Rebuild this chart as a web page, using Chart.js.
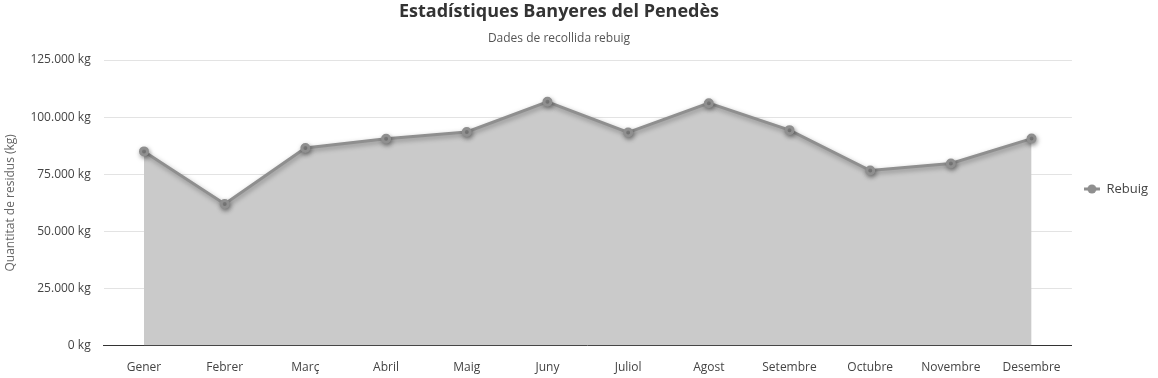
<!DOCTYPE html>
<html lang="ca">
<head>
	<meta charset="UTF-8">
	<title>Estadístiques Banyeres del Penedès</title>
	<script src="https://cdn.jsdelivr.net/npm/chart.js@4/dist/chart.umd.min.js"></script>
	<style>
		body,html{padding:0;margin:0;background:#fff;}
		#wrap{width:1158px;height:378px;position:relative;}
	</style>
</head>
<body>
	<div id="wrap"><canvas id="myChart"></canvas></div>
	<script>
		var mesos = ['Gener','Febrer','Març','Abril','Maig','Juny','Juliol','Agost','Setembre','Octubre','Novembre','Desembre'];
		var rebuig = [85000,62000,86500,90500,93500,106700,93300,106100,94300,76600,79700,90600];
		var yMax = 125000;
		var yStep = 25000;
		var titol = 'Estadístiques Banyeres del Penedès';
		var subtitol = 'Dades de recollida rebuig';

		function kg(v){
			return String(v).replace(/\B(?=(\d{3})+(?!\d))/g,'.') + ' kg';
		}

		// little legend icon: line with a dot
		var icon = document.createElement('canvas');
		icon.width = 16; icon.height = 12;
		var ic = icon.getContext('2d');
		ic.strokeStyle = '#8f8f8f'; ic.lineWidth = 3;
		ic.beginPath(); ic.moveTo(0,6); ic.lineTo(16,6); ic.stroke();
		ic.fillStyle = '#8f8f8f';
		ic.beginPath(); ic.arc(8,6,4.5,0,Math.PI*2); ic.fill();

		var shadow = {
			id:'lineShadow',
			beforeDatasetDraw:function(chart){
				var c = chart.ctx;
				c.save();
				c.shadowColor = 'rgba(0,0,0,0.35)';
				c.shadowBlur = 5;
				c.shadowOffsetX = 1;
				c.shadowOffsetY = 2;
			},
			afterDatasetDraw:function(chart){
				chart.ctx.restore();
			}
		};

		// legend centred on the whole canvas height, not only the plot
		var legendPos = {
			id:'legendPos',
			afterLayout:function(chart){
				if(!chart.legend) return;
				chart.legend.top = 0;
				chart.legend.bottom = chart.height;
			}
		};

		// title + subtitle, centred a bit left like the original
		var heading = {
			id:'heading',
			afterDraw:function(chart){
				var c = chart.ctx;
				var cx = (chart.width - 40) / 2;
				c.save();
				c.textAlign = 'center';
				c.textBaseline = 'middle';
				c.fillStyle = '#333';
				c.font = 'bold 18px "Open Sans", sans-serif';
				c.fillText(titol, cx, 12);
				c.fillStyle = '#555';
				c.font = '12px "Open Sans", sans-serif';
				c.fillText(subtitol, cx, 39);
				c.restore();
			}
		};

		var ctx = document.getElementById('myChart').getContext('2d');
		Chart.defaults.font.family = '"Open Sans", sans-serif';
		var chart = new Chart(ctx,{
			type:'line',
			data:{
				labels:mesos,
				datasets:[{
					label:'Rebuig',
					data:rebuig,
					borderColor:'#8f8f8f',
					backgroundColor:'#cacaca',
					pointBackgroundColor:'#8f8f8f',
					pointBorderColor:'#8f8f8f',
					pointRadius:3.5,
					borderWidth:3,
					fill:'origin',
					tension:0
				}]
			},
			options:{
				responsive:true,
				maintainAspectRatio:false,
				animation:false,
				layout:{padding:{left:3,right:0,top:60,bottom:-12}},
				plugins:{
					title:{display:false},
					legend:{
						position:'right',
						labels:{
							usePointStyle:true,
							pointStyle:icon,
							pointStyleWidth:16,
							color:'#444',
							font:{size:13},
							padding:12
						}
					},
					tooltip:{enabled:false}
				},
				scales:{
					x:{
						offset:true,
						grid:{display:false,drawTicks:false},
						border:{display:true,color:'#333',width:1},
						ticks:{color:'#444',font:{size:12},padding:15}
					},
					y:{
						min:0,
						max:yMax,
						ticks:{stepSize:yStep,color:'#444',font:{size:12},padding:13,callback:function(v){return kg(v);}},
						grid:{color:'#e3e3e3',drawTicks:false},
						border:{display:false},
						title:{display:true,text:'Quantitat de residus (kg)',color:'#666',font:{size:12},padding:{top:0,bottom:0}}
					}
				}
			},
			plugins:[shadow,legendPos,heading]
		});
	</script>
</body>
</html>
